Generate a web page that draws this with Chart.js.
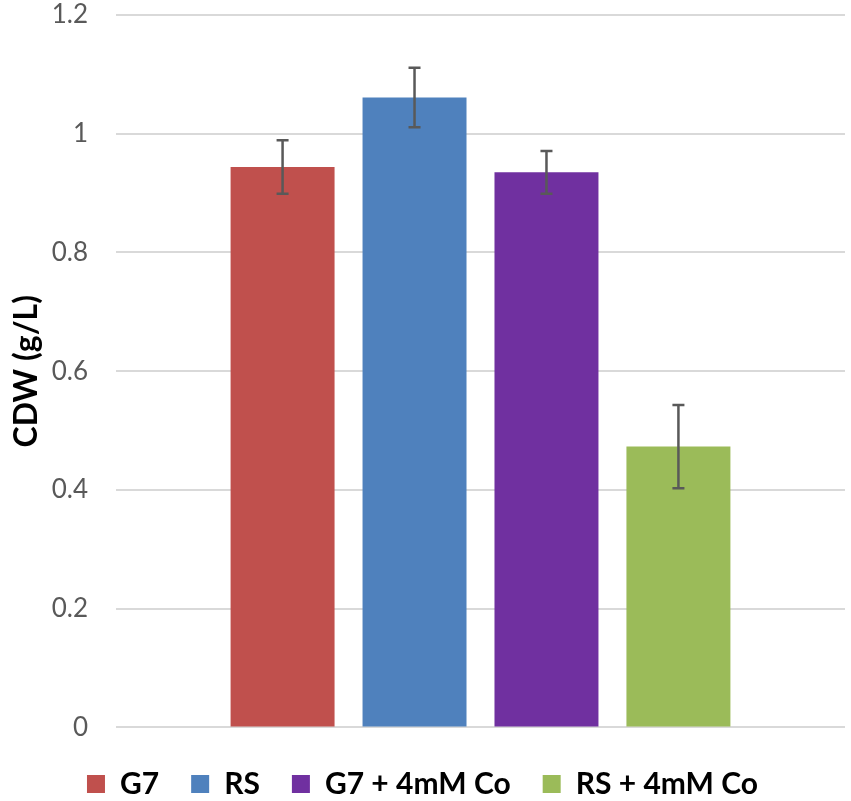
<!DOCTYPE html>
<html>
<head>
    <title>CDW</title>
    <script src="https://cdn.jsdelivr.net/npm/chart.js"></script>
    <style>
        body { margin: 0; background: #ffffff; }
        #wrap { width: 851px; height: 801px; }
    </style>
</head>
<body>
    <div id="wrap"><canvas id="chart" width="851" height="801"></canvas></div>

    <script>
// Strains / conditions, one bar each
const groups = ['G7', 'RS', 'G7 + 4mM Co', 'RS + 4mM Co'];
const cdwMeans = [0.944, 1.061, 0.935, 0.473];
const cdwErrors = [0.045, 0.050, 0.036, 0.070];
const barColors = ['#C0504D', '#4F81BD', '#7030A0', '#9BBB59'];
const yTickLabels = ['0', '0.2', '0.4', '0.6', '0.8', '1', '1.2'];

// Error bar plugin - draws whiskers using the y scale
const errorBars = {
    id: 'errorBars',
    afterDatasetsDraw(chart) {
        const ctx = chart.ctx;
        const yScale = chart.scales.y;
        ctx.save();
        ctx.strokeStyle = '#595959';
        ctx.lineWidth = 2.5;
        chart.data.datasets.forEach((ds, i) => {
            const bar = chart.getDatasetMeta(i).data[0];
            const x = bar.x;
            const top = yScale.getPixelForValue(cdwMeans[i] + cdwErrors[i]);
            const bottom = yScale.getPixelForValue(cdwMeans[i] - cdwErrors[i]);
            ctx.beginPath();
            ctx.moveTo(x, top);
            ctx.lineTo(x, bottom);
            ctx.moveTo(x - 6, top);
            ctx.lineTo(x + 6, top);
            ctx.moveTo(x - 6, bottom);
            ctx.lineTo(x + 6, bottom);
            ctx.stroke();
        });
        ctx.restore();
    }
};

const datasets = groups.map((name, i) => ({
    label: name,
    data: [cdwMeans[i]],
    backgroundColor: barColors[i],
    borderWidth: 0,
    categoryPercentage: 0.724,
    barPercentage: 0.788
}));

new Chart(document.getElementById('chart').getContext('2d'), {
    type: 'bar',
    data: {
        labels: [''],
        datasets: datasets
    },
    plugins: [errorBars],
    options: {
        responsive: false,
        animation: false,
        layout: {
            padding: { top: 2, right: 6, bottom: -8, left: 0 }
        },
        plugins: {
            tooltip: { enabled: false },
            legend: {
                position: 'bottom',
                // empty title only pushes the legend row down a bit
                title: { display: true, text: '', padding: 0, font: { size: 8 } },
                labels: {
                    boxWidth: 18,
                    boxHeight: 18,
                    padding: 32,
                    color: '#000000',
                    font: { family: 'Lato', size: 30, weight: 'bold' }
                }
            }
        },
        scales: {
            x: {
                display: false
            },
            y: {
                min: 0,
                max: 1.2,
                afterFit(scale) {
                    scale.width = 116;
                    scale.paddingTop = 15;
                    scale.paddingBottom = 0;
                },
                border: { display: false },
                grid: {
                    color: '#D9D9D9',
                    lineWidth: 2,
                    drawTicks: false
                },
                ticks: {
                    stepSize: 0.2,
                    padding: 28,
                    color: '#595959',
                    font: { family: 'Lato', size: 26 },
                    callback: (value, index) => yTickLabels[index]
                },
                title: {
                    display: true,
                    text: 'CDW (g/L)',
                    color: '#000000',
                    padding: { top: 7, bottom: 0 },
                    font: { family: 'Lato', size: 32, weight: 'bold' }
                }
            }
        }
    }
});
    </script>
</body>
</html>
